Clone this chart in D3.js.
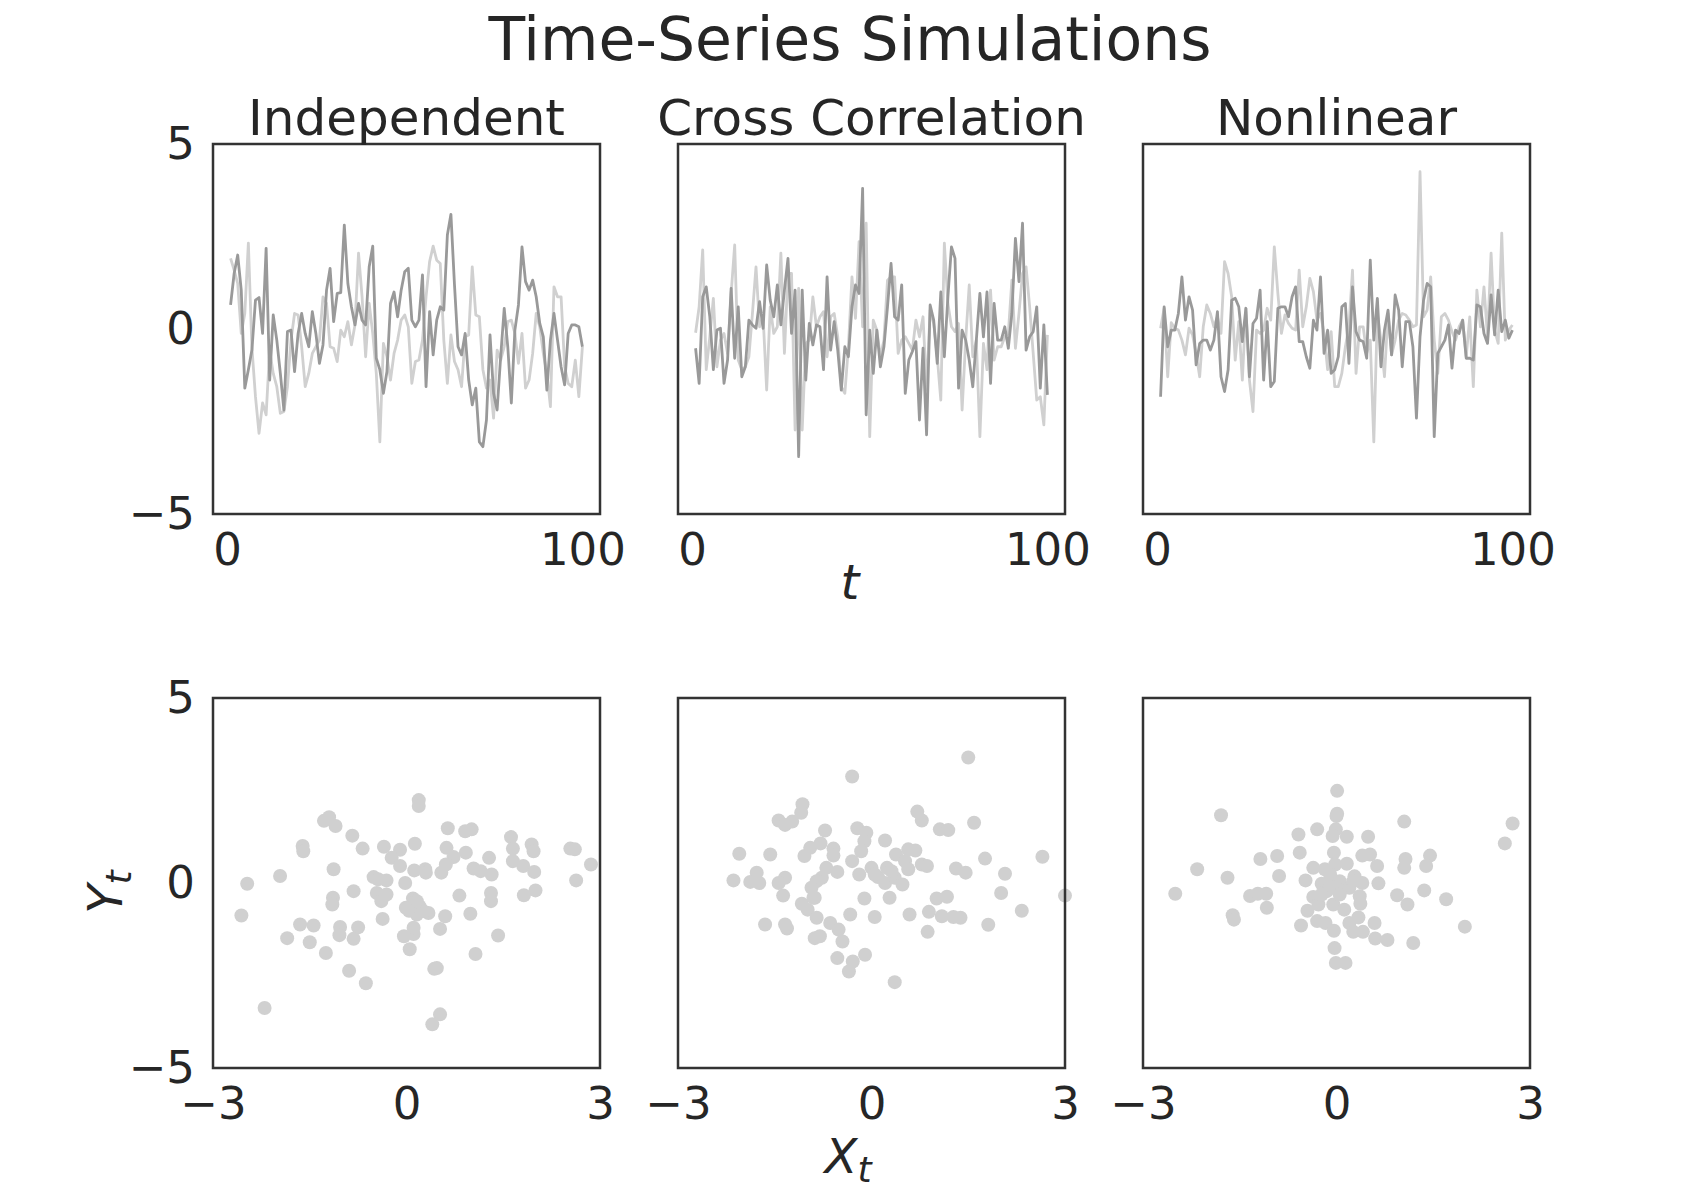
<!DOCTYPE html>
<html>
<head>
<meta charset="utf-8">
<script src="https://cdn.jsdelivr.net/npm/d3@7"></script>
<style>
  body { margin: 0; background: #fff; }
  text { font-family: "DejaVu Sans", sans-serif; fill: #262626; }
</style>
</head>
<body>
<div id="chart"></div>
<script>
// Time-series simulations: 3 top panels (lines over t), 3 bottom panels (X_t vs Y_t)

var width = 1700;
var height = 1200;

// data
var panelTitles = ["Independent", "Cross Correlation", "Nonlinear"];
var tTicks = [0, 100];
var xtTicks = [-3, 0, 3];
var yTicks = [-5, 0, 5];

// top row, light grey series
var indepLight = [1.91,1.59,1.23,-0.12,0.42,2.32,-0.5,-1.83,-2.82,-2.0,
  -2.32,-0.57,-1.2,-1.56,-2.28,-2.23,-1.56,-0.3,0.42,0.38,
  -0.48,-1.56,-1.2,-0.66,-0.48,-0.3,0.87,0.69,-0.48,-0.52,
  -0.88,-0.03,-0.21,0.2,-0.43,0.11,2.05,0.87,-0.75,0.69,
  -0.12,-1.2,-3.05,-0.39,-0.75,-1.38,-0.66,-0.3,0.24,0.38,
  0.06,-1.47,-0.88,-0.84,-0.3,0.87,1.82,2.24,1.86,1.77,
  -0.3,-1.47,-0.16,-0.88,-1.1,-1.56,-0.21,-0.16,1.68,0.38,
  0.33,-1.1,-1.6,-1.38,-2.41,-0.57,-0.84,-0.48,0.2,0.24,
  -0.12,-0.93,-0.12,-1.6,-1.38,-0.66,0.42,0.06,-0.66,-1.2,
  -2.1,1.14,0.87,0.87,-1.02,-1.47,-1.56,-0.84,-1.83,-0.48];
// top row, dark grey series
var indepDark = [0.65,1.5,2.0,1.05,-1.6,-1.1,-0.57,0.78,0.85,-0.12,
  2.18,-1.38,0.38,-0.3,-1.2,-2.19,-0.07,-0.03,-1.15,-0.12,
  0.42,-0.12,-0.48,0.47,-0.12,-0.93,-0.43,1.05,1.64,0.2,
  0.96,0.98,2.81,1.23,0.6,0.11,0.69,0.24,0.11,1.68,
  2.24,-0.79,-1.1,-1.74,-1.15,0.69,1.0,0.33,1.05,1.55,
  1.64,0.24,0.06,0.24,1.46,-1.56,0.47,-0.7,0.24,0.6,
  0.51,2.54,3.1,1.2,-0.48,-0.7,-0.12,-1.38,-2.05,-1.6,
  -3.05,-3.18,-2.46,-0.16,-1.74,-2.19,-0.75,0.56,-0.48,-2.0,
  -0.03,0.65,2.22,1.28,1.05,1.32,0.87,0.15,-0.21,-1.65,
  -0.3,0.42,-0.3,-1.02,-1.51,-0.12,0.11,0.11,0.06,-0.48];

var crossLight = [-0.1,0.6,2.14,-1.1,-0.21,0.83,-1.02,-0.3,-0.12,-0.66,
  0.96,2.27,-0.84,-1.1,-1.02,-0.75,0.42,1.68,0.06,0.33,
  -1.65,0.6,-0.12,0.06,2.05,-0.66,1.5,1.5,-2.73,1.1,
  -2.73,-0.39,-0.3,0.87,0.06,0.33,0.47,-0.75,0.33,0.42,
  -0.21,-1.56,-1.74,-0.48,1.41,0.29,2.36,0.06,2.86,-2.91,
  0.24,-0.03,-0.75,-0.3,1.32,1.41,1.41,-0.66,-0.3,-0.21,
  -0.39,-0.57,0.24,-0.21,0.33,-1.65,0.51,0.15,-0.75,-1.92,
  2.32,0.69,0.06,-0.07,0.15,-2.19,-0.3,1.19,-0.75,-0.3,
  -2.91,-0.39,-1.1,1.05,-0.84,-0.48,-0.48,-0.21,-0.12,1.32,
  -0.52,0.42,1.5,1.68,0.6,-0.66,-1.92,-1.83,-2.59,-0.16];
var crossDark = [-0.52,-1.47,0.87,1.14,0.33,-1.1,-0.03,0.02,-1.47,-0.84,
  1.1,-0.79,0.6,-1.29,-1.02,0.24,0.11,0.02,0.74,0.02,
  1.73,0.78,0.33,1.19,0.11,1.05,1.91,-0.12,1.05,-3.45,
  1.05,-1.38,0.15,-0.43,0.11,0.06,-1.1,1.41,-0.57,0.2,
  -0.57,-1.65,-0.48,-0.75,0.6,1.19,0.96,3.8,-2.32,-0.03,
  -1.2,-0.03,-1.02,-0.48,0.6,1.77,0.33,0.24,1.19,-1.74,
  -0.84,-0.61,-0.34,-2.46,-0.52,-2.86,0.65,0.24,-0.93,1.0,
  -0.75,0.87,2.22,1.91,-1.6,-0.03,-0.3,-0.84,-1.56,-0.3,
  0.96,-0.21,1.0,-1.47,0.69,-0.3,-0.3,0.06,-0.52,0.42,
  2.45,1.28,2.86,-0.57,-0.21,-0.07,0.6,-1.6,0.11,-1.78];

var nonlinLight = [0.02,0.56,-1.29,0.17,0.02,-0.03,-0.3,-0.7,0.02,-0.16,
  -0.66,-1.29,0.06,0.65,0.42,0.06,0.33,-0.12,1.82,1.5,
  0.87,-0.84,0.2,-1.38,0.56,-1.38,-2.23,-0.03,-0.12,-0.03,
  0.56,0.24,2.22,0.96,-0.12,0.38,0.15,0.02,-0.03,1.59,
  0.06,0.6,1.37,1.01,0.24,0.42,-0.12,-1.1,-0.07,-1.56,
  -1.56,-1.2,-0.48,0.06,1.59,-1.2,0.06,0.06,-0.66,-0.3,
  -3.05,0.42,-0.3,-1.29,0.42,-0.7,-0.3,0.24,0.42,0.38,
  0.24,0.06,0.11,4.25,0.33,0.51,1.41,-0.3,-1.2,0.33,
  0.42,0.24,-0.07,-0.3,0.06,0.24,-0.75,0.33,-1.56,1.05,
  0.06,1.14,-0.21,2.05,-0.03,-0.39,2.59,-0.3,-0.03,0.11];
var nonlinDark = [-1.83,0.6,-0.48,-0.03,-0.03,0.42,1.41,0.24,0.87,0.51,
  -0.97,-0.39,-0.3,-0.3,-0.57,-0.3,0.47,-1.29,-1.69,-1.1,
  0.78,0.83,0.6,-0.34,0.56,-1.29,0.15,0.29,1.05,-1.38,
  0.2,-1.56,-1.42,0.56,0.6,0.6,0.33,0.87,1.14,-0.34,
  -0.34,-0.75,-1.06,0.24,-0.03,1.41,-0.66,-0.03,-1.2,-1.1,
  -0.75,0.6,0.69,-0.93,1.14,-0.07,-0.3,-0.34,-0.79,1.86,
  -0.3,0.83,-1.02,-0.03,0.51,-0.7,0.92,0.51,-1.02,0.2,
  0.2,-0.48,-2.41,-0.21,0.78,1.23,1.14,-2.91,-0.66,-0.48,
  -0.3,0.11,-1.06,-0.03,-0.12,0.24,-0.79,-0.79,-0.84,0.65,
  0.6,-0.12,-0.39,0.92,-0.16,1.05,-0.07,0.24,-0.25,-0.03];

// bottom row, [X_t, Y_t] points
var indepScatter = [[0.19,2.24],[0.19,2.08],[-1.2,1.78],[-1.28,1.68],[-1.1,1.54],[-0.84,1.28],
  [-0.68,0.93],[-1.61,1.0],[-1.6,0.86],[-0.35,0.98],[-0.1,0.9],[-0.23,0.68],[-0.1,0.46],
  [0.13,1.06],[0.64,1.48],[0.91,1.4],[1.01,1.45],[0.62,0.95],[0.73,0.7],[0.92,0.82],
  [0.61,0.5],[0.54,0.28],[0.12,0.34],[0.29,0.37],[0.3,0.28],[1.28,0.68],[1.62,1.24],
  [1.65,0.93],[1.94,1.04],[1.97,0.86],[1.65,0.59],[1.81,0.46],[1.98,0.3],[1.04,0.39],
  [1.15,0.32],[1.32,0.23],[2.54,0.93],[2.61,0.91],[2.86,0.5],[2.63,0.07],[-1.96,0.19],
  [-2.47,-0.02],[-2.56,-0.88],[-1.13,0.37],[-0.51,0.16],[-0.44,0.1],[-0.31,0.07],[-0.02,0.0],
  [-0.46,-0.27],[-0.31,-0.31],[-0.39,-0.49],[-0.82,-0.22],[-1.14,-0.4],[-1.15,-0.58],
  [0.1,-0.42],[0.2,-0.63],[0.04,-0.75],[0.16,-0.85],[0.34,-0.81],[0.6,-0.9],[0.52,-1.24],
  [0.82,-0.34],[0.99,-0.83],[1.31,-0.27],[1.31,-0.49],[1.82,-0.33],[2.0,-0.2],[-0.37,-0.97],
  [-1.65,-1.12],[-1.44,-1.15],[-1.85,-1.49],[-1.5,-1.6],[-1.03,-1.19],[-1.04,-1.41],
  [-0.75,-1.2],[-0.82,-1.51],[-1.25,-1.89],[-0.04,-1.44],[0.11,-1.38],[0.11,-1.21],
  [0.05,-1.79],[1.42,-1.42],[1.07,-1.92],[-0.89,-2.37],[-0.63,-2.71],[0.43,-2.32],
  [0.47,-2.3],[-2.2,-3.38],[0.52,-3.55],[0.4,-3.82],[0.05,-0.67],[0.26,-0.76],[0.16,-0.49],
  [-0.01,-0.67]];

var crossScatter = [[1.5,3.39],[-0.3,2.88],[-1.07,2.13],[-1.09,1.9],[-1.44,1.69],[-1.34,1.57],
  [-1.23,1.66],[-0.72,1.42],[-0.22,1.48],[-0.08,1.36],[-0.11,1.13],[-0.16,0.86],[-0.3,0.59],
  [0.21,1.15],[0.71,1.93],[0.78,1.69],[1.06,1.45],[1.19,1.43],[1.59,1.63],[-2.05,0.79],
  [-1.57,0.77],[-0.95,0.95],[-1.04,0.73],[-0.79,1.07],[-0.59,0.93],[-0.59,0.74],[-0.7,0.41],
  [-0.53,0.3],[-0.77,0.14],[-0.85,0.05],[-0.93,-0.13],[-0.88,-0.4],[-1.08,-0.56],[-0.99,-0.72],
  [-0.85,-0.94],[-1.78,0.28],[-2.14,0.07],[-1.88,0.03],[-1.74,0.0],[-1.34,0.14],[-1.44,0.0],
  [-1.37,-0.34],[-0.19,0.23],[0.0,0.41],[0.1,0.16],[0.21,0.0],[0.24,0.41],[0.38,0.77],
  [0.57,0.91],[0.68,0.88],[0.52,0.59],[0.57,0.37],[0.36,0.14],[0.48,-0.04],[0.78,0.5],
  [0.86,0.46],[1.31,0.39],[1.46,0.28],[1.76,0.66],[2.07,0.25],[2.65,0.71],[3.0,-0.34],
  [2.01,-0.27],[2.33,-0.75],[1.81,-1.13],[-0.11,-0.42],[0.28,-0.4],[1.01,-0.42],[1.17,-0.37],
  [0.89,-0.78],[1.09,-0.9],[1.27,-0.92],[1.38,-0.94],[0.87,-1.32],[0.59,-0.85],[0.05,-0.92],
  [-0.33,-0.85],[-1.65,-1.12],[-1.34,-1.12],[-1.31,-1.23],[-0.88,-1.49],[-0.8,-1.44],
  [-0.64,-1.08],[-0.51,-1.26],[-0.45,-1.58],[-0.53,-2.03],[-0.29,-2.12],[-0.35,-2.39],
  [-0.1,-1.94],[0.36,-2.68],[-0.9,-0.4],[0.05,0.23],[0.31,0.32]];

var nonlinScatter = [[0.01,2.49],[0.01,1.87],[0.0,1.81],[-1.79,1.83],[1.05,1.66],[2.73,1.61],
  [2.61,1.07],[-0.59,1.31],[-0.3,1.45],[-0.01,1.45],[-0.06,1.27],[0.16,1.25],[0.49,1.25],
  [-0.57,0.82],[-0.04,0.82],[0.4,0.74],[0.52,0.77],[0.63,0.46],[1.07,0.65],[1.05,0.41],
  [1.45,0.74],[1.39,0.46],[-2.16,0.37],[-2.5,-0.29],[-1.69,0.14],[-1.18,0.65],[-0.92,0.73],
  [-0.89,0.19],[-1.34,-0.35],[-1.22,-0.29],[-1.09,-0.29],[-1.08,-0.67],[-1.61,-0.87],
  [-1.59,-0.99],[-0.48,0.07],[-0.36,0.41],[-0.18,0.37],[-0.02,0.5],[0.16,0.52],[-0.23,-0.02],
  [-0.07,0.09],[0.05,0.05],[0.28,0.18],[0.4,0.0],[0.2,-0.13],[0.65,-0.01],[0.94,-0.33],
  [1.1,-0.58],[1.36,-0.2],[1.7,-0.44],[1.99,-1.18],[1.19,-1.62],[-0.36,-0.38],[-0.28,-0.58],
  [-0.45,-0.75],[-0.05,-0.58],[0.12,-0.72],[0.36,-0.36],[0.37,-0.56],[-0.55,-1.15],
  [-0.3,-1.03],[-0.17,-1.08],[-0.04,-1.29],[0.2,-1.08],[0.34,-0.93],[0.26,-1.32],[0.41,-1.32],
  [0.59,-1.08],[0.6,-1.5],[0.79,-1.54],[-0.03,-1.76],[-0.01,-2.16],[0.14,-2.16],[-0.15,-0.22],
  [0.0,-0.13],[-0.23,-0.31],[0.05,-0.31],[-0.1,0.23],[0.26,0.05]];

var lineSeries = [[indepLight, indepDark], [crossLight, crossDark], [nonlinLight, nonlinDark]];
var scatterSeries = [indepScatter, crossScatter, nonlinScatter];

// layout
var colX = [213, 678, 1143];
var rowY = [144, 698];
var pw = 387;
var ph = 370;
var lightGrey = "#d0d0d0";
var darkGrey = "#999999";
var spineColor = "#333333";

var svg = d3.select("#chart")
    .append("svg")
    .attr("width", width)
    .attr("height", height);

svg.append("rect").attr("width", width).attr("height", height).attr("fill", "#fff");

// scales
var xT = d3.scaleLinear().domain([-3.95, 104.95]).range([0, pw]);
var xS = d3.scaleLinear().domain([-3, 3]).range([0, pw]);
var y = d3.scaleLinear().domain([-5, 5]).range([ph, 0]);

var fmt = d3.format("d");

function styleAxis(g) {
    g.select(".domain").remove();
    g.selectAll("text")
        .attr("font-size", 45)
        .attr("font-family", "DejaVu Sans")
        .attr("fill", "#262626");
}

function addSpines(g) {
    g.append("rect")
        .attr("width", pw)
        .attr("height", ph)
        .attr("fill", "none")
        .attr("stroke", spineColor)
        .attr("stroke-width", 2.5);
}

// top row: time series
var line = d3.line()
    .x(function(d, i) { return xT(i + 1); })
    .y(function(d) { return y(d); });

panelTitles.forEach(function(title, c) {
    var g = svg.append("g")
        .attr("transform", "translate(" + colX[c] + "," + rowY[0] + ")");

    g.selectAll(".ts")
        .data(lineSeries[c])
        .enter()
        .append("path")
        .attr("class", "ts")
        .attr("d", function(d) { return line(d); })
        .attr("fill", "none")
        .attr("stroke", function(d, i) { return i === 0 ? lightGrey : darkGrey; })
        .attr("stroke-width", 2.8)
        .attr("stroke-linejoin", "round");

    addSpines(g);

    g.append("g")
        .attr("transform", "translate(0," + ph + ")")
        .call(d3.axisBottom(xT).tickValues(tTicks).tickFormat(fmt).tickSize(0).tickPadding(19))
        .call(styleAxis);

    if (c === 0) {
        g.append("g")
            .call(d3.axisLeft(y).tickValues(yTicks).tickFormat(fmt).tickSize(0).tickPadding(18))
            .call(styleAxis);
    }

    g.append("text")
        .attr("x", pw / 2)
        .attr("y", -9)
        .attr("text-anchor", "middle")
        .attr("font-size", 50)
        .text(title);
});

// bottom row: scatter of X_t vs Y_t
scatterSeries.forEach(function(pts, c) {
    var g = svg.append("g")
        .attr("transform", "translate(" + colX[c] + "," + rowY[1] + ")");

    g.selectAll("circle")
        .data(pts)
        .enter()
        .append("circle")
        .attr("cx", function(d) { return xS(d[0]); })
        .attr("cy", function(d) { return y(d[1]); })
        .attr("r", 7)
        .attr("fill", lightGrey);

    addSpines(g);

    g.append("g")
        .attr("transform", "translate(0," + ph + ")")
        .call(d3.axisBottom(xS).tickValues(xtTicks).tickFormat(fmt).tickSize(0).tickPadding(19))
        .call(styleAxis);

    if (c === 0) {
        g.append("g")
            .call(d3.axisLeft(y).tickValues(yTicks).tickFormat(fmt).tickSize(0).tickPadding(18))
            .call(styleAxis);
    }
});

// titles and axis labels
svg.append("text")
    .attr("x", 850)
    .attr("y", 60)
    .attr("text-anchor", "middle")
    .attr("font-size", 60)
    .text("Time-Series Simulations");

svg.append("text")
    .attr("x", 850)
    .attr("y", 599)
    .attr("text-anchor", "middle")
    .attr("font-size", 48)
    .attr("font-style", "italic")
    .text("t");

var xl = svg.append("text")
    .attr("x", 848)
    .attr("y", 1173)
    .attr("text-anchor", "middle")
    .attr("font-size", 48)
    .attr("font-style", "italic");
xl.append("tspan").text("X");
xl.append("tspan").attr("font-size", 36).attr("dy", 9).text("t");

var yl = svg.append("text")
    .attr("transform", "translate(122,892) rotate(-90)")
    .attr("text-anchor", "middle")
    .attr("font-size", 48)
    .attr("font-style", "italic");
yl.append("tspan").text("Y");
yl.append("tspan").attr("font-size", 36).attr("dy", 9).text("t");
</script>
</body>
</html>
